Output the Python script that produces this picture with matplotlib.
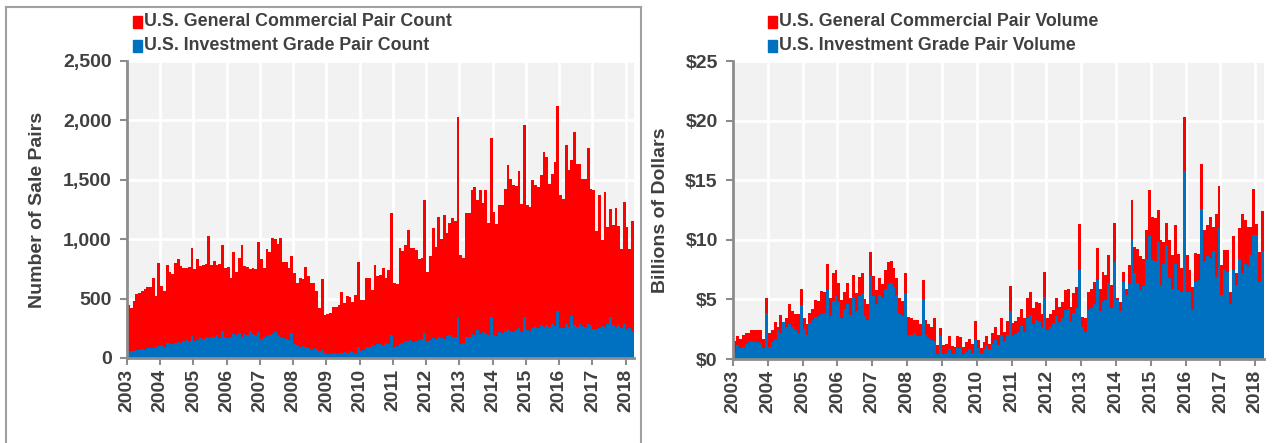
import numpy as np
import matplotlib
matplotlib.use("Agg")
import matplotlib.pyplot as plt
from matplotlib.patches import Rectangle
from matplotlib.lines import Line2D

plt.rcParams['font.family'] = ['Liberation Sans', 'DejaVu Sans']

# monthly values, Jan 2003 - Mar 2018
years = [str(y) for y in range(2003, 2019)]

count_total = [
    450, 425, 480, 540, 545, 560, 585, 595, 600, 670, 525, 800,
    610, 560, 780, 720, 710, 800, 830, 775, 760, 760, 770, 930,
    746, 836, 774, 780, 790, 1028, 780, 815, 780, 790, 950, 760,
    770, 670, 890, 720, 845, 950, 775, 770, 750, 755, 745, 975,
    830, 755, 915, 890, 1014, 1000, 960, 1008, 808, 808, 760, 860,
    714, 630, 672, 661, 764, 691, 630, 635, 568, 422, 663, 362,
    371, 380, 427, 430, 447, 559, 461, 523, 511, 475, 530, 812,
    490, 490, 670, 670, 575, 780, 690, 700, 760, 670, 740, 1220,
    635, 624, 930, 900, 955, 1080, 930, 930, 910, 830, 840, 1330,
    728, 860, 1093, 938, 1191, 1000, 1205, 1050, 1140, 1177, 1150, 2027,
    865, 843, 1224, 1224, 1411, 1439, 1327, 1417, 1308, 1411, 1140, 1851,
    1229, 1131, 1285, 1285, 1425, 1627, 1504, 1453, 1450, 1571, 1299, 1963,
    1285, 1271, 1495, 1453, 1439, 1543, 1733, 1691, 1467, 1551, 1649, 2120,
    1369, 1341, 1789, 1579, 1663, 1901, 1635, 1635, 1509, 1509, 1767, 1425,
    1411, 1067, 1375, 991, 1397, 1103, 1252, 1120, 1263, 1112, 916, 1313,
    1103, 916, 1151,
]

count_ig = [
    55, 60, 60, 65, 70, 75, 70, 80, 85, 80, 90, 100,
    110, 95, 130, 115, 120, 125, 135, 130, 140, 150, 145, 195,
    140, 150, 165, 160, 175, 170, 180, 175, 190, 170, 225, 180,
    165, 175, 200, 190, 210, 180, 205, 195, 230, 200, 190, 215,
    160, 175, 185, 190, 200, 220, 195, 180, 170, 160, 150, 210,
    120, 110, 95, 100, 90, 85, 70, 80, 75, 60, 70, 40,
    35, 30, 40, 35, 45, 40, 50, 45, 55, 50, 45, 90,
    60, 65, 90, 95, 110, 100, 115, 120, 110, 125, 115, 190,
    90, 100, 120, 125, 145, 140, 150, 135, 145, 150, 160, 210,
    140, 150, 165, 160, 175, 170, 160, 185, 190, 180, 175, 340,
    120, 130, 175, 180, 200, 195, 235, 200, 215, 210, 190, 345,
    195, 185, 215, 210, 225, 240, 230, 220, 235, 250, 215, 345,
    235, 225, 255, 260, 250, 275, 260, 280, 265, 290, 270, 395,
    250, 255, 290, 260, 355, 280, 260, 285, 270, 265, 290, 275,
    245, 240, 255, 270, 260, 290, 345, 275, 260, 280, 255, 290,
    235, 250, 230,
]

vol_total = [
    1.5, 1.9, 1.65, 2.0, 2.2, 2.15, 2.4, 2.4, 2.4, 2.4, 1.7, 5.1,
    2.15, 2.4, 3.1, 2.7, 3.7, 3.1, 3.4, 4.6, 4.05, 3.8, 3.8, 5.9,
    3.4, 2.9, 3.9, 4.2, 4.95, 4.9, 5.7, 5.6, 8.0, 5.1, 7.2, 7.5,
    6.4, 4.95, 5.65, 6.35, 5.1, 7.05, 5.5, 6.9, 7.2, 5.0, 4.6, 9.0,
    7.0, 5.8, 6.8, 6.3, 7.5, 8.1, 8.2, 7.6, 6.8, 5.1, 4.9, 7.2,
    3.55, 3.4, 3.3, 3.3, 2.9, 6.6, 3.3, 2.9, 2.7, 3.4, 1.2, 2.6,
    1.2, 1.25, 1.9, 1.1, 1.0, 1.9, 1.85, 1.0, 1.45, 1.65, 1.3, 3.2,
    1.6, 0.9, 1.45, 1.9, 1.3, 2.2, 2.7, 2.0, 3.4, 2.3, 3.2, 6.1,
    3.0, 3.2, 3.5, 4.2, 3.4, 5.1, 5.65, 4.25, 4.8, 4.7, 3.8, 7.3,
    3.4, 3.8, 4.1, 5.1, 4.4, 4.8, 5.8, 5.9, 4.4, 5.5, 6.0, 11.3,
    3.55, 3.4, 5.65, 5.9, 6.5, 9.3, 5.9, 7.3, 7.05, 8.7, 6.2, 11.4,
    5.1, 4.8, 7.3, 5.9, 7.9, 13.3, 9.4, 9.2, 8.6, 8.4, 10.8, 14.2,
    11.9, 11.8, 12.5, 10.0, 9.85, 11.4, 10.0, 8.7, 11.2, 8.8, 7.6, 20.3,
    8.7, 7.5, 6.0, 8.9, 8.8, 16.4, 10.8, 11.2, 11.9, 11.1, 12.2, 14.5,
    7.9, 9.15, 9.15, 5.65, 10.3, 7.2, 11.0, 12.2, 11.7, 11.1, 11.1, 14.3,
    11.3, 9.0, 12.4,
]

vol_ig = [
    0.7, 1.2, 0.9, 1.0, 1.3, 1.4, 1.5, 1.45, 1.4, 1.35, 0.9, 3.9,
    1.0, 1.45, 1.7, 2.4, 2.15, 3.1, 2.7, 2.9, 2.7, 2.4, 2.15, 4.5,
    2.5, 2.0, 3.0, 3.3, 3.5, 3.6, 3.8, 3.9, 5.8, 3.6, 4.9, 5.3,
    4.8, 3.4, 4.2, 4.6, 3.7, 5.2, 4.0, 5.3, 5.5, 3.6, 3.3, 7.0,
    5.3, 4.6, 5.4, 5.1, 5.9, 6.3, 6.4, 6.0, 5.4, 3.8, 3.6, 5.5,
    2.0, 2.0, 2.2, 1.9, 1.9, 5.0, 2.0, 1.8, 1.6, 1.5, 0.4, 1.9,
    0.4, 0.5, 0.8, 0.4, 0.4, 0.9, 0.9, 0.4, 0.6, 0.8, 0.5, 1.6,
    0.9, 0.5, 0.8, 1.1, 0.8, 1.3, 1.6, 1.2, 2.0, 1.5, 2.0, 4.05,
    1.9, 2.1, 2.3, 2.8, 2.3, 3.4, 3.7, 2.9, 3.3, 3.2, 2.7, 5.2,
    2.4, 2.7, 3.0, 3.6, 3.1, 3.4, 4.1, 4.2, 3.2, 3.9, 4.3, 7.5,
    2.7, 2.3, 4.1, 4.25, 4.65, 6.6, 4.0, 4.8, 4.95, 6.35, 4.25, 8.1,
    4.95, 4.0, 6.5, 5.4, 6.3, 10.1, 7.2, 6.35, 5.8, 6.1, 8.4, 10.3,
    8.3, 8.2, 9.8, 6.2, 8.0, 9.55, 6.8, 5.9, 8.0, 5.8, 5.6, 15.8,
    5.65, 5.65, 4.1, 6.5, 6.6, 12.6, 8.2, 8.6, 8.45, 9.1, 6.9, 11.0,
    5.4, 7.5, 7.3, 4.6, 7.5, 6.2, 8.4, 7.2, 8.0, 7.8, 8.7, 10.4,
    10.4, 6.5, 9.1,
]

RED = '#FF0000'
BLUE = '#0070C0'
TXT = '#404040'
GRAY = '#8C8C8C'

W, H = 1272, 443
fig = plt.figure(figsize=(W / 100, H / 100), dpi=100)

months = np.arange(len(count_total)) + 0.5


def style_axis(ax, ymax, step, fmt):
    ax.set_facecolor('#F2F2F2')
    ax.set_xlim(0, len(count_total))
    ax.set_ylim(0, ymax)
    ax.set_xticks(np.arange(0, 181, 12))
    ax.set_xticklabels(years, rotation=90, fontsize=14, fontweight='bold', color=TXT)
    yt = np.arange(0, ymax + step / 2, step)
    ax.set_yticks(yt)
    ax.set_yticklabels([fmt(v) for v in yt], fontsize=14, fontweight='bold', color=TXT)
    ax.grid(True, color='white', linewidth=2)
    ax.set_axisbelow(True)
    for s in ['top', 'right']:
        ax.spines[s].set_visible(False)
    for s in ['left', 'bottom']:
        ax.spines[s].set_color(GRAY)
        ax.spines[s].set_linewidth(2)
    ax.tick_params(axis='both', color=GRAY, width=1.5, length=5, pad=3)
    ax.tick_params(axis='y', pad=6)


# left panel: pair counts
ax1 = fig.add_axes([127 / W, 1 - 358 / H, 507 / W, 297 / H])
ax1.bar(months, count_total, width=1.0, color=RED, linewidth=0)
ax1.bar(months, count_ig, width=1.0, color=BLUE, linewidth=0)
style_axis(ax1, 2500, 500, lambda v: f'{int(v):,}')
ax1.set_ylabel('Number of Sale Pairs', fontsize=14, fontweight='bold', color=TXT, labelpad=12)

# right panel: volumes
ax2 = fig.add_axes([733 / W, 1 - 359 / H, 531 / W, 298 / H])
ax2.bar(months, vol_total, width=1.0, color=RED, linewidth=0)
ax2.bar(months, vol_ig, width=1.0, color=BLUE, linewidth=0)
style_axis(ax2, 25, 5, lambda v: f'${int(v)}')
ax2.set_ylabel('Billions of Dollars', fontsize=14, fontweight='bold', color=TXT, labelpad=12)


# legends drawn as squares + text in pixel positions
def legend(x0, labels):
    for i, (lab, col) in enumerate(labels):
        yc = 22 + i * 24
        fig.patches.append(Rectangle((x0 / W, 1 - (yc + 6) / H), 9 / W, 12 / H,
                                     transform=fig.transFigure, color=col, zorder=5))
        fig.text((x0 + 11) / W, 1 - yc / H, lab, fontsize=12.8, fontweight='bold',
                 color=TXT, va='center', ha='left')


legend(133, [('U.S. General Commercial Pair Count', RED),
             ('U.S. Investment Grade Pair Count', BLUE)])
legend(768, [('U.S. General Commercial Pair Volume', RED),
             ('U.S. Investment Grade Pair Volume', BLUE)])

# panel frame
fig.add_artist(Line2D([6 / W, 641 / W], [1 - 7 / H, 1 - 7 / H], color='#A0A0A0', lw=1.5))
fig.add_artist(Line2D([6 / W, 6 / W], [0, 1 - 7 / H], color='#A0A0A0', lw=1.5))
fig.add_artist(Line2D([641 / W, 641 / W], [0, 1 - 7 / H], color='#A0A0A0', lw=1.5))

fig.savefig('out.png', dpi=100)
